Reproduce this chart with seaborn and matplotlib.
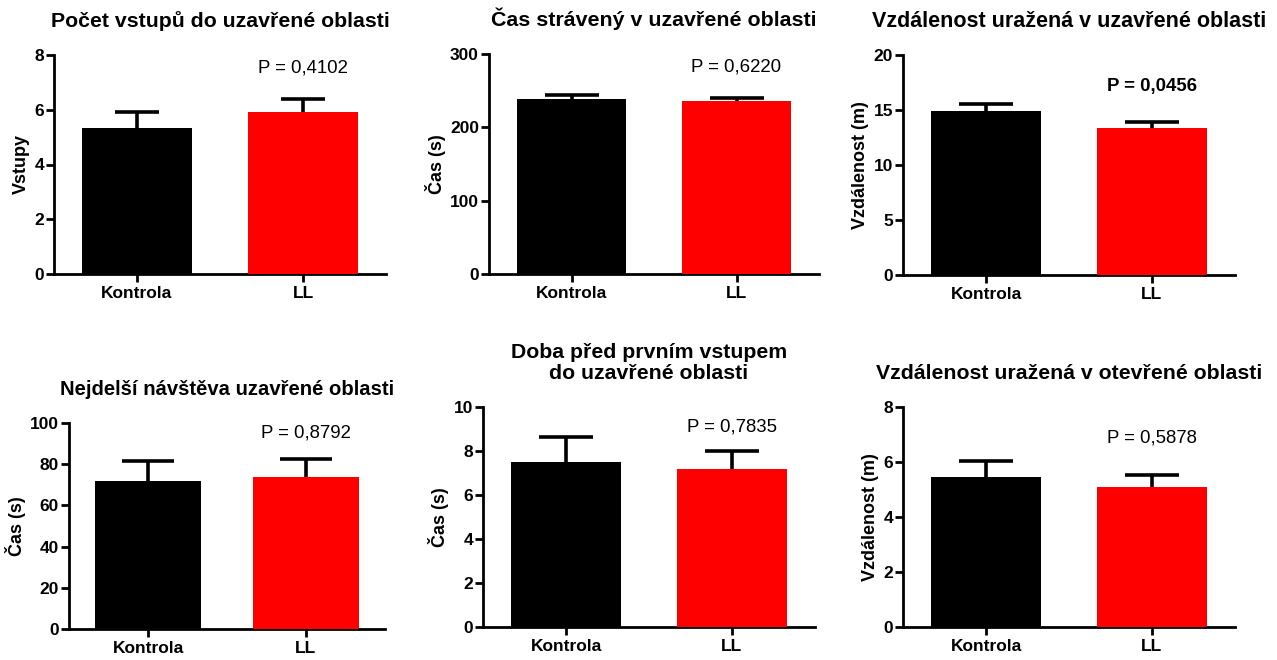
import matplotlib
matplotlib.use("Agg")
import matplotlib.pyplot as plt
import seaborn as sns
import pandas as pd
import numpy as np

# ---- data ----
groups = ["Kontrola", "LL"]
titles = [
    "Počet vstupů do uzavřené oblasti",
    "Čas strávený v uzavřené oblasti",
    "Vzdálenost uražená v uzavřené oblasti",
    "Nejdelší návštěva uzavřené oblasti",
    "Doba před prvním vstupem\ndo uzavřené oblasti",
    "Vzdálenost uražená v otevřené oblasti",
]
ylabels = ["Vstupy", "Čas (s)", "Vzdálenost (m)", "Čas (s)", "Čas (s)", "Vzdálenost (m)"]
ymax = [8, 300, 20, 100, 10, 8]
ystep = [2, 100, 5, 20, 2, 2]

entries_mean = [5.32, 5.93]
entries_err = [0.61, 0.45]
time_mean = [238.2, 235.5]
time_err = [5.8, 4.9]
dist_closed_mean = [14.9, 13.4]
dist_closed_err = [0.65, 0.5]
longest_mean = [71.8, 73.9]
longest_err = [9.9, 8.5]
latency_mean = [7.51, 7.17]
latency_err = [1.14, 0.83]
dist_open_mean = [5.45, 5.08]
dist_open_err = [0.60, 0.45]

p_texts = ["P = 0,4102", "P = 0,6220", "P = 0,0456", "P = 0,8792", "P = 0,7835", "P = 0,5878"]
p_bold = [False, False, True, False, False, False]

means = [entries_mean, time_mean, dist_closed_mean, longest_mean, latency_mean, dist_open_mean]
errs = [entries_err, time_err, dist_closed_err, longest_err, latency_err, dist_open_err]

colors = ["#000000", "#ff0000"]

# ---- layout (pixels: left, right, top, bottom) ----
W, H = 1277, 660
boxes = [
    (54, 386, 55, 274),
    (489, 819, 54, 274),
    (903, 1235, 55, 275),
    (69, 385, 423, 629),
    (483, 815, 407, 627),
    (903, 1235, 407, 627),
]
p_y = [0.939, 0.942, 0.856, 0.95, 0.91, 0.86]
title_sizes = [15.3, 15.4, 15.5, 14.6, 15.3, 15.3]
cap_sizes = [16, 19.5, 19.5, 19, 19.5, 19.5]

sns.set_style("ticks")
plt.rcParams["font.family"] = ["Liberation Sans", "DejaVu Sans"]
plt.rcParams["text.color"] = "black"
plt.rcParams["axes.labelcolor"] = "black"
plt.rcParams["xtick.color"] = "black"
plt.rcParams["ytick.color"] = "black"

fig = plt.figure(figsize=(W / 100, H / 100), dpi=100)

for i in range(6):
    l, r, t, b = boxes[i]
    ax = fig.add_axes([l / W, 1 - b / H, (r - l) / W, (b - t) / H])
    df = pd.DataFrame({"group": groups, "value": means[i]})
    sns.barplot(data=df, x="group", y="value", hue="group", palette=colors,
                width=0.665, errorbar=None, legend=False, ax=ax, saturation=1,
                edgecolor="none", zorder=3)
    x = np.arange(len(groups))
    _, caps, _ = ax.errorbar(x, means[i], yerr=[np.zeros(len(groups)), errs[i]],
                             fmt="none", ecolor="black", elinewidth=2.6,
                             capsize=cap_sizes[i], capthick=2.6, zorder=2)
    # only the upper caps are shown (one-sided SEM)
    if len(caps) == 2:
        caps[0].remove()
    ax.set_xlim(-0.5, 1.5)
    ax.set_ylim(0, ymax[i])
    ax.set_yticks(np.arange(0, ymax[i] + ystep[i] / 2, ystep[i]))
    for s in ["top", "right"]:
        ax.spines[s].set_visible(False)
    for s in ["left", "bottom"]:
        ax.spines[s].set_linewidth(2)
        ax.spines[s].set_color("black")
    ax.tick_params(axis="both", direction="out", length=6, width=2, color="black",
                   labelsize=12.5, pad=2.5)
    ax.tick_params(axis="y", pad=1.2)
    for lab in ax.get_xticklabels() + ax.get_yticklabels():
        lab.set_fontweight("bold")
    ax.set_xlabel("")
    ax.set_ylabel(ylabels[i], fontsize=13, fontweight="bold", labelpad=3)
    ax.set_title(titles[i], fontsize=title_sizes[i], fontweight="bold", pad=20,
                 linespacing=1.15)
    ax.text(1, p_y[i] * ymax[i], p_texts[i], ha="center", va="center",
            fontsize=13.4, fontweight="bold" if p_bold[i] else "normal",
            transform=ax.transData)

fig.savefig("out.png", dpi=100)
